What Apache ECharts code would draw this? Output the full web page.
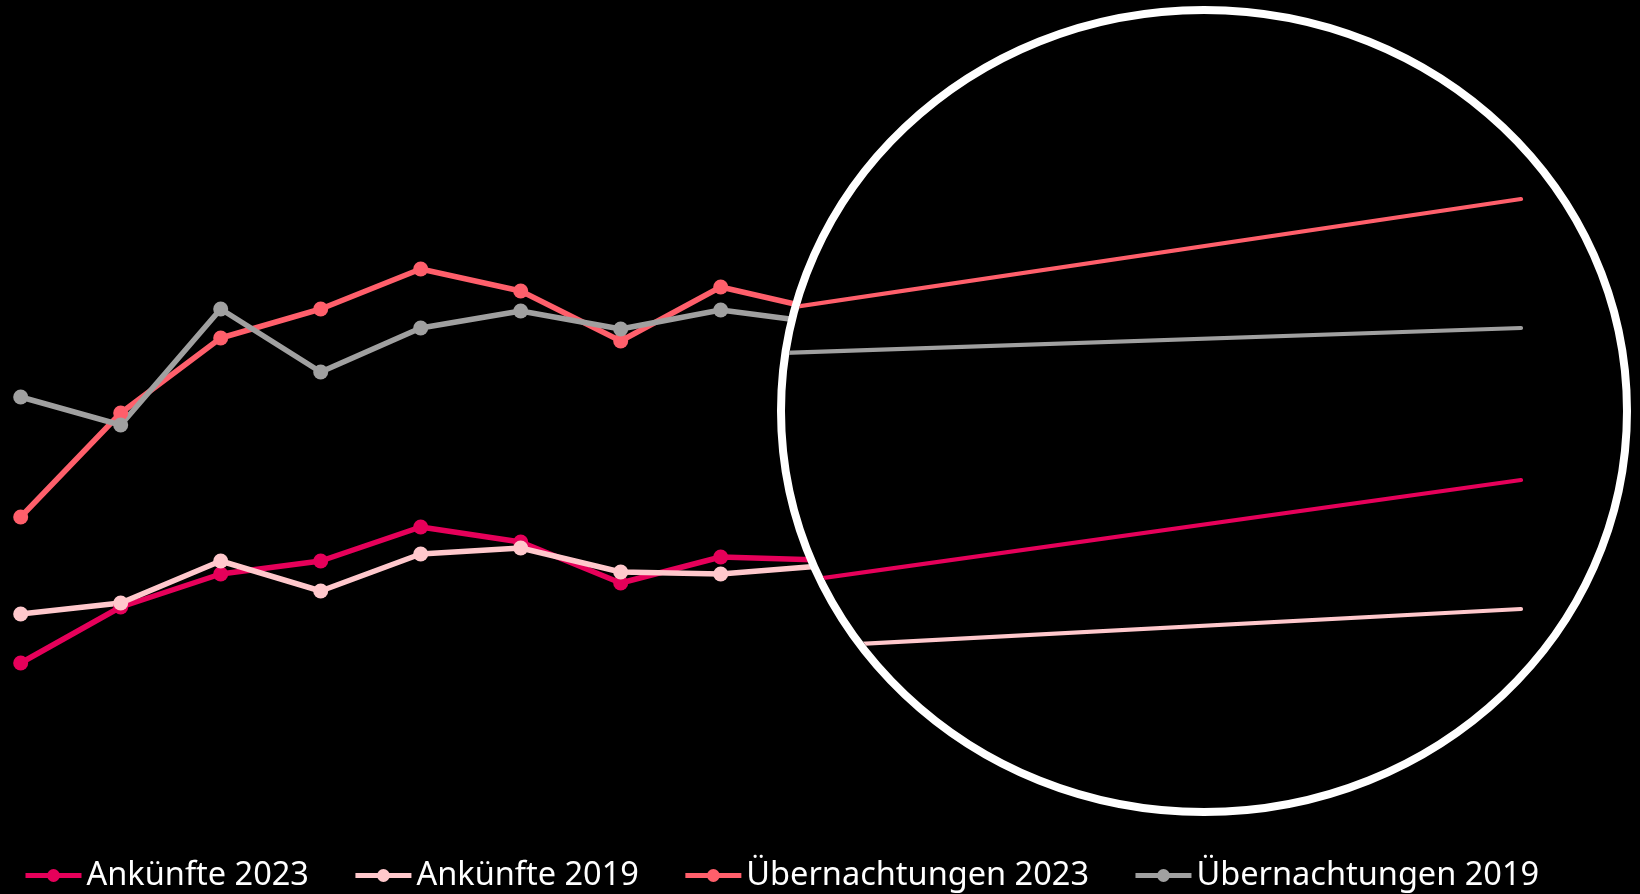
<!DOCTYPE html>
<html>
<head>
<meta charset="utf-8">
<script src="https://cdn.jsdelivr.net/npm/echarts@6/dist/echarts.min.js"></script>
<style>
  html, body { margin: 0; padding: 0; background: #000; }
  #chart { width: 1640px; height: 894px; }
</style>
</head>
<body>
<div id="chart"></div>
<script>
// ---- data (main chart) ----
const months = ['Jan', 'Feb', 'Mär', 'Apr', 'Mai', 'Jun', 'Jul', 'Aug', 'Sep'];
const ankuenfte2023 = [137, 193, 226, 239, 273, 258, 217, 243, 240];
const ankuenfte2019 = [186, 197, 239, 209, 246, 252, 228, 226, 234];
const uebernachtungen2023 = [283, 387, 462, 491, 531, 509, 459, 513, 490];
const uebernachtungen2019 = [403, 375, 491, 428, 472, 489, 471, 490, 477];

// ---- data (magnified view inside the lens) ----
const lensCategories = ['Sep', 'Dez'];
const lensAnkuenfte2023 = [216, 320];
const lensAnkuenfte2019 = [152, 191];
const lensUebernachtungen2023 = [491, 601];
const lensUebernachtungen2019 = [447, 472];

const seriesNames = ['Ankünfte 2023', 'Ankünfte 2019', 'Übernachtungen 2023', 'Übernachtungen 2019'];

// ---- styles / layout ----
const colors = ['#e6005a', '#ffc8cc', '#ff5f6b', '#a0a0a0'];
const LENS = { cx: 1204, cy: 411, rx: 423, ry: 401, stroke: 8 };

const chart = echarts.init(document.getElementById('chart'), null, { renderer: 'canvas' });

function mainSeries(name, values, color) {
  return {
    type: 'line',
    name: name,
    xAxisIndex: 0,
    yAxisIndex: 0,
    data: values,
    symbol: 'circle',
    symbolSize: 15,
    showSymbol: true,
    lineStyle: { color: color, width: 5.5 },
    itemStyle: { color: color, borderWidth: 0 },
    emphasis: { disabled: true },
    z: 2
  };
}

function lensSeries(name, values, color) {
  return {
    type: 'custom',
    name: name,
    xAxisIndex: 1,
    yAxisIndex: 1,
    clip: false,
    silent: true,
    z: 20,
    data: values.map(function (v, i) { return [i, v]; }),
    renderItem: function (params, api) {
      if (params.dataIndex !== 0) return null;
      const pts = values.map(function (v, i) { return api.coord([i, v]); });
      return {
        type: 'polyline',
        shape: { points: pts },
        style: { stroke: color, lineWidth: 4.2, fill: null, lineCap: 'round' },
        clipPath: {
          type: 'ellipse',
          shape: { cx: LENS.cx, cy: LENS.cy, rx: LENS.rx - LENS.stroke / 2, ry: LENS.ry - LENS.stroke / 2 }
        }
      };
    }
  };
}

const option = {
  backgroundColor: '#000',
  animation: false,
  color: colors,
  grid: [
    { left: 20.7, top: 0, width: 800, height: 800 },
    { left: 781, top: 0, width: 740, height: 800 }
  ],
  xAxis: [
    { type: 'category', gridIndex: 0, data: months, boundaryGap: false, show: false },
    { type: 'category', gridIndex: 1, data: lensCategories, boundaryGap: false, show: false }
  ],
  yAxis: [
    { type: 'value', gridIndex: 0, min: 0, max: 800, show: false },
    { type: 'value', gridIndex: 1, min: 0, max: 800, show: false }
  ],
  legend: {
    data: seriesNames,
    left: 23,
    top: 859,
    padding: 0,
    itemGap: 44,
    itemWidth: 56,
    itemHeight: 16,
    selectedMode: false,
    lineStyle: { width: 5 },
    textStyle: {
      color: '#ffffff',
      fontSize: 32.5,
      fontFamily: 'Noto Sans',
      padding: [0, 0, 14, 0]
    }
  },
  graphic: [
    {
      type: 'ellipse',
      silent: true,
      z: 10,
      shape: { cx: LENS.cx, cy: LENS.cy, rx: LENS.rx, ry: LENS.ry },
      style: { fill: '#000', stroke: '#ffffff', lineWidth: LENS.stroke }
    }
  ],
  series: [
    mainSeries(seriesNames[0], ankuenfte2023, colors[0]),
    mainSeries(seriesNames[1], ankuenfte2019, colors[1]),
    mainSeries(seriesNames[2], uebernachtungen2023, colors[2]),
    mainSeries(seriesNames[3], uebernachtungen2019, colors[3]),
    lensSeries('Lupe ' + seriesNames[0], lensAnkuenfte2023, colors[0]),
    lensSeries('Lupe ' + seriesNames[1], lensAnkuenfte2019, colors[1]),
    lensSeries('Lupe ' + seriesNames[2], lensUebernachtungen2023, colors[2]),
    lensSeries('Lupe ' + seriesNames[3], lensUebernachtungen2019, colors[3])
  ]
};

chart.setOption(option);
</script>
</body>
</html>
